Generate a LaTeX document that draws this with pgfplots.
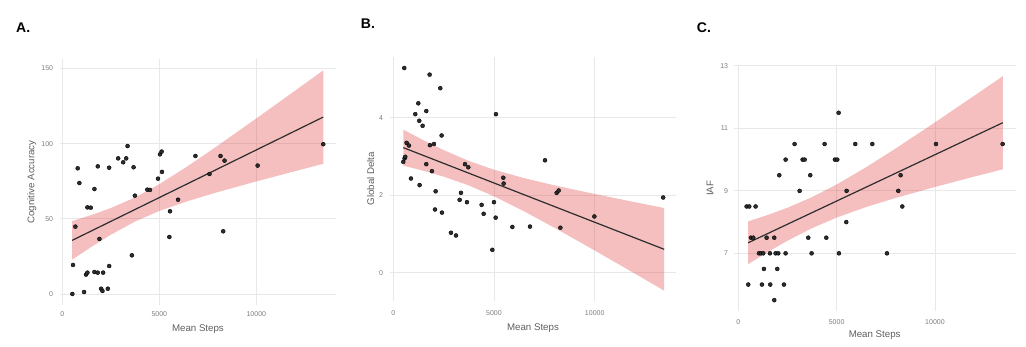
\documentclass[border=0pt]{standalone}
\usepackage{fontspec}
\setmainfont{Liberation Sans}
\usepackage{pgfplots}
\pgfplotsset{compat=1.18}

\definecolor{ribbon}{RGB}{225,60,60}
\definecolor{gridc}{RGB}{232,232,232}
\definecolor{tickc}{RGB}{125,125,125}
\definecolor{labc}{RGB}{95,95,95}
\definecolor{ptc}{RGB}{45,45,45}

\pgfplotsset{
  panel/.style={
    scale only axis,
    anchor=south west,
    axis line style={draw=none},
    major tick length=0pt,
    tick style={draw=none},
    grid=major,
    major grid style={draw=gridc, line width=0.9pt},
    xtick={0,5000,10000},
    scaled x ticks=false,
    scaled y ticks=false,
    /pgf/number format/1000 sep={},
    /pgf/number format/assume math mode=true,
    ticklabel style={font=\fontsize{7}{8}\selectfont, color=tickc, inner sep=0pt},
    label style={font=\fontsize{9.7}{11}\selectfont, color=labc},
    xlabel={Mean Steps},
  },
  pts/.style={only marks, mark=*, mark size=2pt, mark options={draw=none, fill=ptc}},
  band/.style={fill=ribbon, fill opacity=0.33, draw=none},
  fit/.style={draw=ptc, line width=1.2pt, no marks},
}

\begin{document}
\begin{tikzpicture}
\useasboundingbox (0,0) rectangle (1026pt,346pt);
\node[anchor=west, inner sep=0pt, font=\fontsize{14}{16}\selectfont\bfseries] at (16pt,318.5pt) {A.};
\node[anchor=west, inner sep=0pt, font=\fontsize{14}{16}\selectfont\bfseries] at (360.7pt,322pt) {B.};
\node[anchor=west, inner sep=0pt, font=\fontsize{14}{16}\selectfont\bfseries] at (696.7pt,318.5pt) {C.};

% ---------------- Panel A ----------------
\begin{axis}[panel, at={(59.8pt,40.9pt)}, width=276.3pt, height=246.1pt,
  xmin=-130, xmax=14112, ymin=-7.4, ymax=156.3, ytick={0,50,100,150},
  ylabel={Cognitive Accuracy},
  xticklabel style={anchor=center, yshift=-9pt},
  yticklabel style={anchor=east, xshift=-6.5pt},
  ylabel style={at={(axis description cs:-0.101,0.5)}, anchor=center},
  xlabel style={at={(axis description cs:0.5,-0.098)}, anchor=center}]
\addplot[pts] table {
x y
517 0
552 19.3
672 44.8
793 83.6
879 73.8
1121 1.3
1224 12.9
1293 14.2
1293 57.6
1466 57.4
1655 69.8
1655 14.6
1828 14.2
1828 84.9
1914 36.6
2000 3.5
2069 2.0
2103 14.2
2345 3.5
2414 18.6
2414 84.0
2879 90.2
3138 87.6
3293 90.2
3362 98.4
3586 25.7
3672 84.3
3741 65.4
4379 69.4
4517 69.2
4931 76.7
5034 92.9
5120 94.7
5138 81.2
5517 37.9
5551 55.0
5965 62.7
6862 91.8
7586 79.8
8155 91.8
8293 41.7
8362 88.7
10068 85.4
13450 99.6
};
\addplot[band] coordinates {(500,48.45) (1500,52.54) (2500,57.17) (3742,64.16) (5000,73.03) (6500,85.33) (8000,98.55) (10000,116.76) (12000,135.25) (13450,148.75)
 (13450,86.59) (12000,81.71) (10000,74.86) (8000,67.73) (6500,61.93) (5000,55.23) (3742,48.16) (2500,39.42) (1500,31.36) (500,22.79)} -- cycle;
\addplot[fit] coordinates {(500,35.62) (13450,117.67)};
\end{axis}

% ---------------- Panel B ----------------
\begin{axis}[panel, at={(390.3pt,45.4pt)}, width=285.4pt, height=243.8pt,
  xmin=-147, xmax=14021, ymin=-0.72, ymax=5.57, ytick={0,2,4},
  ylabel={Global Delta},
  xticklabel style={anchor=center, yshift=-12.7pt},
  yticklabel style={anchor=east, xshift=-7pt},
  ylabel style={at={(axis description cs:-0.069,0.5)}, anchor=center},
  xlabel style={at={(axis description cs:0.5,-0.111)}, anchor=center}]
\addplot[pts] table {
x y
546 5.28
497 2.86
563 2.95
596 2.99
662 3.35
778 3.28
877 2.43
1093 4.09
1242 4.37
1291 3.92
1308 2.26
1457 3.79
1639 4.17
1639 2.80
1805 5.11
1821 3.29
1920 2.62
2020 3.32
2103 2.10
2070 1.63
2334 4.76
2401 3.54
2417 1.55
2864 1.03
3113 0.96
3295 1.88
3361 2.06
3560 2.80
3725 2.72
3659 1.82
4387 1.75
4487 1.52
4917 0.59
5000 1.82
5083 1.42
5099 4.09
5463 2.45
5480 2.30
5911 1.18
6788 1.19
7533 2.90
8112 2.06
8212 2.12
8295 1.16
9983 1.45
13400 1.94
};
\addplot[band] coordinates {(500,3.690) (1500,3.417) (2500,3.163) (3742,2.885) (5000,2.657) (6500,2.439) (8000,2.254) (10000,2.031) (12000,1.819) (13450,1.669)
 (13450,-0.463) (12000,-0.025) (10000,0.573) (8000,1.160) (6500,1.581) (5000,1.971) (3742,2.253) (2500,2.479) (1500,2.629) (500,2.762)} -- cycle;
\addplot[fit] coordinates {(500,3.226) (13450,0.603)};
\end{axis}

% ---------------- Panel C ----------------
\begin{axis}[panel, at={(733.8pt,34.6pt)}, width=281.7pt, height=246.4pt,
  xmin=-227, xmax=14095, ymin=5.14, ymax=13.03, ytick={7,9,11,13},
  ylabel={IAF},
  xticklabel style={anchor=center, yshift=-10.3pt},
  yticklabel style={anchor=east, xshift=-5.5pt},
  ylabel style={at={(axis description cs:-0.0845,0.5)}, anchor=center},
  xlabel style={at={(axis description cs:0.5,-0.096)}, anchor=center}]
\addplot[pts] table {
x y
508 6.0
424 8.5
559 8.5
881 8.5
644 7.5
763 7.5
1051 7.0
1153 7.0
1271 7.0
1203 6.0
1305 6.5
1441 7.5
1610 7.0
1627 6.0
1830 7.5
1830 5.5
1898 7.0
1983 6.5
2034 7.0
2085 9.5
2322 6.0
2407 7.0
2407 10.0
2864 10.5
3119 9.0
3271 10.0
3373 10.0
3559 7.5
3661 9.5
3729 7.0
4390 10.5
4475 7.5
4915 10.0
5034 10.0
5102 11.5
5119 7.0
5508 9.0
5491 8.0
5949 10.5
6814 10.5
7559 7.0
8136 9.0
8254 9.5
8339 8.5
10051 10.5
13441 10.5
};
\addplot[band] coordinates {(500,8.021) (1500,8.228) (2500,8.459) (3742,8.797) (5000,9.203) (6500,9.756) (8000,10.356) (10000,11.191) (12000,12.047) (13450,12.673)
 (13450,9.691) (12000,9.457) (10000,9.125) (8000,8.772) (6500,8.482) (5000,8.145) (3742,7.803) (2500,7.403) (1500,7.040) (500,6.653)} -- cycle;
\addplot[fit] coordinates {(500,7.337) (13450,11.182)};
\end{axis}
\end{tikzpicture}
\end{document}
